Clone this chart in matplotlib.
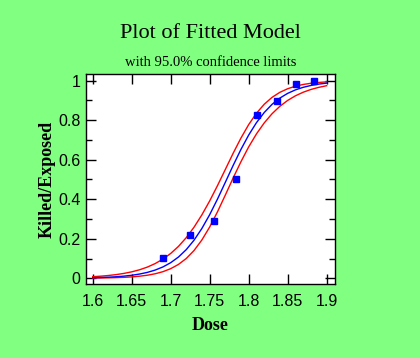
import matplotlib
matplotlib.use("Agg")
import matplotlib.pyplot as plt
from matplotlib.ticker import MultipleLocator

# Observed data
dose = [1.6907, 1.7242, 1.7552, 1.7842, 1.8113, 1.8369, 1.8610, 1.8839]
killed_ratio = [0.1017, 0.2167, 0.2903, 0.5000, 0.8254, 0.8983, 0.9839, 1.0000]

# Fitted model and 95% limits
curve_x = [1.60, 1.61, 1.62, 1.63, 1.64, 1.65, 1.66, 1.67, 1.68, 1.69, 1.70,
           1.71, 1.72, 1.73, 1.74, 1.75, 1.76, 1.77, 1.78, 1.79, 1.80,
           1.81, 1.82, 1.83, 1.84, 1.85, 1.86, 1.87, 1.88, 1.89, 1.90]
fit = [0.0028, 0.0039, 0.0055, 0.0077, 0.0108, 0.0152, 0.0213, 0.0297, 0.0414, 0.0573, 0.0789,
       0.1076, 0.1452, 0.1931, 0.2522, 0.3219, 0.4008, 0.4853, 0.5705, 0.6516, 0.7249,
       0.7878, 0.8394, 0.8805, 0.9122, 0.9360, 0.9537, 0.9667, 0.9761, 0.9829, 0.9878]
lower = [0.0010, 0.0014, 0.0022, 0.0032, 0.0047, 0.0070, 0.0104, 0.0154, 0.0227, 0.0333, 0.0486,
         0.0702, 0.1002, 0.1409, 0.1939, 0.2594, 0.3363, 0.4207, 0.5068, 0.5893, 0.6649,
         0.7309, 0.7867, 0.8330, 0.8705, 0.9003, 0.9237, 0.9419, 0.9559, 0.9666, 0.9748]
upper = [0.0079, 0.0105, 0.0140, 0.0185, 0.0246, 0.0325, 0.0429, 0.0565, 0.0742, 0.0968, 0.1255,
         0.1615, 0.2057, 0.2589, 0.3211, 0.3915, 0.4690, 0.5503, 0.6321, 0.7091, 0.7778,
         0.8355, 0.8811, 0.9158, 0.9413, 0.9594, 0.9722, 0.9811, 0.9872, 0.9913, 0.9942]

x_ticks = [1.6, 1.65, 1.7, 1.75, 1.8, 1.85, 1.9]
x_tick_labels = ["1.6", "1.65", "1.7", "1.75", "1.8", "1.85", "1.9"]
y_ticks = [0, 0.2, 0.4, 0.6, 0.8, 1.0]
y_tick_labels = ["0", "0.2", "0.4", "0.6", "0.8", "1"]

bg = "#80FF80"
fig = plt.figure(figsize=(4.2, 3.58), dpi=100, facecolor=bg)
ax = fig.add_axes([86/420, 1-284/358, (335-86)/420, (284-74)/358])
ax.set_facecolor("white")

ax.plot(curve_x, upper, color="red", lw=1.0)
ax.plot(curve_x, lower, color="red", lw=1.0)
ax.plot(curve_x, fit, color="blue", lw=1.0)
ax.plot(dose, killed_ratio, linestyle="none", marker="s", ms=4.5, color="blue")

ax.set_xlim(1.5914, 1.9107)
ax.set_ylim(-0.029, 1.034)
ax.set_xticks(x_ticks)
ax.set_xticklabels(x_tick_labels, family="Liberation Sans", fontsize=11.5)
ax.set_yticks(y_ticks)
ax.set_yticklabels(y_tick_labels, family="Liberation Sans", fontsize=11.5)
ax.yaxis.set_minor_locator(MultipleLocator(0.1))
ax.tick_params(which="both", direction="in", top=True, right=True, width=1, color="black")
ax.tick_params(which="major", length=7)
ax.tick_params(which="minor", length=4)
ax.tick_params(axis="x", which="major", pad=7)
ax.tick_params(axis="y", which="major", pad=4)
for s in ax.spines.values():
    s.set_linewidth(1)
    s.set_color("black")

ax.set_xlabel("Dose", family="Liberation Serif", fontweight="bold", fontsize=13, labelpad=6)
ax.set_ylabel("Killed/Exposed", family="Liberation Serif", fontweight="bold", fontsize=13, labelpad=2)

fig.text(0.5 * (86 + 335) / 420, 1 - 33/358, "Plot of Fitted Model", family="Liberation Serif",
         fontsize=16, ha="center", va="center")
fig.text(0.5 * (86 + 335) / 420, 1 - 62/358, "with 95.0% confidence limits", family="Liberation Serif",
         fontsize=10.5, ha="center", va="center")

fig.savefig("out.png", dpi=100, facecolor=bg)
